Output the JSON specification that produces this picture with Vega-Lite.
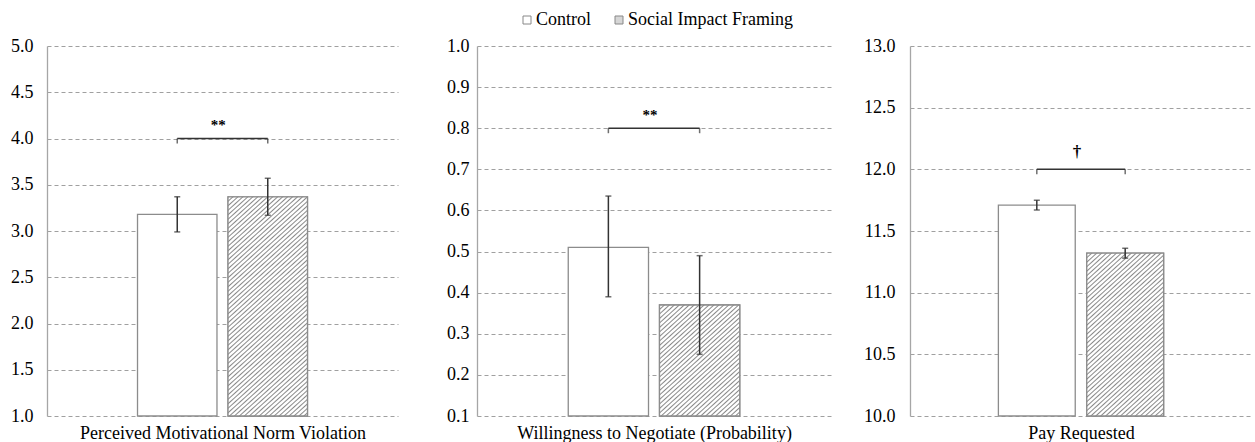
{
 "$schema": "https://vega.github.io/schema/vega-lite/v6.json",
 "background": "white",
 "padding": {"left": 10, "top": 11, "right": 0, "bottom": 0},
 "bounds": "flush",
 "spacing": 79,
 "config": {
  "view": {"stroke": null},
  "font": "Liberation Serif, Times New Roman, DejaVu Serif, serif",
  "axis": {"labelFont": "Liberation Serif, Times New Roman, DejaVu Serif, serif", "titleFont": "Liberation Serif, Times New Roman, DejaVu Serif, serif", "labelColor": "#000", "titleColor": "#000", "titleFontWeight": "normal", "titleFontSize": 18, "labelFontSize": 18},
  "legend": {"labelFont": "Liberation Serif, Times New Roman, DejaVu Serif, serif"},
  "text": {"font": "Liberation Serif, Times New Roman, DejaVu Serif, serif"}
 },
 "resolve": {
  "scale": {"x": "independent", "y": "independent", "fill": "independent"},
  "axis": {"x": "independent", "y": "independent"},
  "legend": {"fill": "independent"}
 },
 "hconcat": [
  {
   "width": 351, "height": 370,
   "data": {"values": [
    {"group": "Control", "mean": 3.18, "lo": 2.99, "hi": 3.37},
    {"group": "Social Impact Framing", "mean": 3.37, "lo": 3.17, "hi": 3.57}
   ]},
   "encoding": {
    "x": {"field": "group", "type": "nominal", "scale": {"domain": ["Control", "Social Impact Framing"], "paddingInner": 0.122, "paddingOuter": 1.2012}, "axis": {"title": "Perceived Motivational Norm Violation", "labels": false, "ticks": false, "domain": false, "grid": false, "titlePadding": 8, "titleFont": "Liberation Serif, Times New Roman, serif"}}
   },
   "layer": [
    {"mark": {"type": "bar", "fill": "#ffffff", "stroke": "#8c8c8c", "strokeWidth": 1.3},
     "encoding": {"y": {"field": "mean", "type": "quantitative", "scale": {"domain": [1, 5], "nice": false, "zero": false}, "axis": {"title": null, "values": [1, 1.5, 2, 2.5, 3, 3.5, 4, 4.5, 5], "format": ".1f", "labelFont": "Liberation Serif, Times New Roman, serif", "labelFontSize": 18, "labelPadding": 14, "ticks": false, "tickSize": 0, "grid": true, "gridDash": [4, 3], "gridColor": "#a0a0a0", "domainColor": "#a6a6a6", "domainWidth": 1.3}}, "y2": {"datum": 1}}},
    {"transform": [{"filter": "datum.group === 'Social Impact Framing'"}],
     "mark": {"type": "bar", "stroke": "#8c8c8c", "strokeWidth": 1.3, "fill": {"gradient": "linear", "x1": 0, "y1": 0, "x2": 0.6085, "y2": 1.8529, "stops": [
{"offset":0,"color":"#888"},{"offset":0.003,"color":"#fff"},{"offset":0.007,"color":"#fff"},
{"offset":0.01,"color":"#888"},{"offset":0.013,"color":"#fff"},{"offset":0.017,"color":"#fff"},
{"offset":0.02,"color":"#888"},{"offset":0.023,"color":"#fff"},{"offset":0.027,"color":"#fff"},
{"offset":0.03,"color":"#888"},{"offset":0.033,"color":"#fff"},{"offset":0.037,"color":"#fff"},
{"offset":0.04,"color":"#888"},{"offset":0.043,"color":"#fff"},{"offset":0.047,"color":"#fff"},
{"offset":0.05,"color":"#888"},{"offset":0.053,"color":"#fff"},{"offset":0.057,"color":"#fff"},
{"offset":0.06,"color":"#888"},{"offset":0.063,"color":"#fff"},{"offset":0.067,"color":"#fff"},
{"offset":0.07,"color":"#888"},{"offset":0.073,"color":"#fff"},{"offset":0.077,"color":"#fff"},
{"offset":0.08,"color":"#888"},{"offset":0.083,"color":"#fff"},{"offset":0.087,"color":"#fff"},
{"offset":0.09,"color":"#888"},{"offset":0.093,"color":"#fff"},{"offset":0.097,"color":"#fff"},
{"offset":0.1,"color":"#888"},{"offset":0.103,"color":"#fff"},{"offset":0.107,"color":"#fff"},
{"offset":0.11,"color":"#888"},{"offset":0.113,"color":"#fff"},{"offset":0.117,"color":"#fff"},
{"offset":0.12,"color":"#888"},{"offset":0.123,"color":"#fff"},{"offset":0.127,"color":"#fff"},
{"offset":0.13,"color":"#888"},{"offset":0.133,"color":"#fff"},{"offset":0.137,"color":"#fff"},
{"offset":0.14,"color":"#888"},{"offset":0.143,"color":"#fff"},{"offset":0.147,"color":"#fff"},
{"offset":0.15,"color":"#888"},{"offset":0.153,"color":"#fff"},{"offset":0.157,"color":"#fff"},
{"offset":0.16,"color":"#888"},{"offset":0.163,"color":"#fff"},{"offset":0.167,"color":"#fff"},
{"offset":0.17,"color":"#888"},{"offset":0.173,"color":"#fff"},{"offset":0.177,"color":"#fff"},
{"offset":0.18,"color":"#888"},{"offset":0.183,"color":"#fff"},{"offset":0.187,"color":"#fff"},
{"offset":0.19,"color":"#888"},{"offset":0.193,"color":"#fff"},{"offset":0.197,"color":"#fff"},
{"offset":0.2,"color":"#888"},{"offset":0.203,"color":"#fff"},{"offset":0.207,"color":"#fff"},
{"offset":0.21,"color":"#888"},{"offset":0.213,"color":"#fff"},{"offset":0.217,"color":"#fff"},
{"offset":0.22,"color":"#888"},{"offset":0.223,"color":"#fff"},{"offset":0.227,"color":"#fff"},
{"offset":0.23,"color":"#888"},{"offset":0.233,"color":"#fff"},{"offset":0.237,"color":"#fff"},
{"offset":0.24,"color":"#888"},{"offset":0.243,"color":"#fff"},{"offset":0.247,"color":"#fff"},
{"offset":0.25,"color":"#888"},{"offset":0.253,"color":"#fff"},{"offset":0.257,"color":"#fff"},
{"offset":0.26,"color":"#888"},{"offset":0.263,"color":"#fff"},{"offset":0.267,"color":"#fff"},
{"offset":0.27,"color":"#888"},{"offset":0.273,"color":"#fff"},{"offset":0.277,"color":"#fff"},
{"offset":0.28,"color":"#888"},{"offset":0.283,"color":"#fff"},{"offset":0.287,"color":"#fff"},
{"offset":0.29,"color":"#888"},{"offset":0.293,"color":"#fff"},{"offset":0.297,"color":"#fff"},
{"offset":0.3,"color":"#888"},{"offset":0.303,"color":"#fff"},{"offset":0.307,"color":"#fff"},
{"offset":0.31,"color":"#888"},{"offset":0.313,"color":"#fff"},{"offset":0.317,"color":"#fff"},
{"offset":0.32,"color":"#888"},{"offset":0.323,"color":"#fff"},{"offset":0.327,"color":"#fff"},
{"offset":0.33,"color":"#888"},{"offset":0.333,"color":"#fff"},{"offset":0.337,"color":"#fff"},
{"offset":0.34,"color":"#888"},{"offset":0.343,"color":"#fff"},{"offset":0.347,"color":"#fff"},
{"offset":0.35,"color":"#888"},{"offset":0.353,"color":"#fff"},{"offset":0.357,"color":"#fff"},
{"offset":0.36,"color":"#888"},{"offset":0.363,"color":"#fff"},{"offset":0.367,"color":"#fff"},
{"offset":0.37,"color":"#888"},{"offset":0.373,"color":"#fff"},{"offset":0.377,"color":"#fff"},
{"offset":0.38,"color":"#888"},{"offset":0.383,"color":"#fff"},{"offset":0.387,"color":"#fff"},
{"offset":0.39,"color":"#888"},{"offset":0.393,"color":"#fff"},{"offset":0.397,"color":"#fff"},
{"offset":0.4,"color":"#888"},{"offset":0.403,"color":"#fff"},{"offset":0.407,"color":"#fff"},
{"offset":0.41,"color":"#888"},{"offset":0.413,"color":"#fff"},{"offset":0.417,"color":"#fff"},
{"offset":0.42,"color":"#888"},{"offset":0.423,"color":"#fff"},{"offset":0.427,"color":"#fff"},
{"offset":0.43,"color":"#888"},{"offset":0.433,"color":"#fff"},{"offset":0.437,"color":"#fff"},
{"offset":0.44,"color":"#888"},{"offset":0.443,"color":"#fff"},{"offset":0.447,"color":"#fff"},
{"offset":0.45,"color":"#888"},{"offset":0.453,"color":"#fff"},{"offset":0.457,"color":"#fff"},
{"offset":0.46,"color":"#888"},{"offset":0.463,"color":"#fff"},{"offset":0.467,"color":"#fff"},
{"offset":0.47,"color":"#888"},{"offset":0.473,"color":"#fff"},{"offset":0.477,"color":"#fff"},
{"offset":0.48,"color":"#888"},{"offset":0.483,"color":"#fff"},{"offset":0.487,"color":"#fff"},
{"offset":0.49,"color":"#888"},{"offset":0.493,"color":"#fff"},{"offset":0.497,"color":"#fff"},
{"offset":0.5,"color":"#888"},{"offset":0.503,"color":"#fff"},{"offset":0.507,"color":"#fff"},
{"offset":0.51,"color":"#888"},{"offset":0.513,"color":"#fff"},{"offset":0.517,"color":"#fff"},
{"offset":0.52,"color":"#888"},{"offset":0.523,"color":"#fff"},{"offset":0.527,"color":"#fff"},
{"offset":0.53,"color":"#888"},{"offset":0.533,"color":"#fff"},{"offset":0.537,"color":"#fff"},
{"offset":0.54,"color":"#888"},{"offset":0.543,"color":"#fff"},{"offset":0.547,"color":"#fff"},
{"offset":0.55,"color":"#888"},{"offset":0.553,"color":"#fff"},{"offset":0.557,"color":"#fff"},
{"offset":0.56,"color":"#888"},{"offset":0.563,"color":"#fff"},{"offset":0.567,"color":"#fff"},
{"offset":0.57,"color":"#888"},{"offset":0.573,"color":"#fff"},{"offset":0.577,"color":"#fff"},
{"offset":0.58,"color":"#888"},{"offset":0.583,"color":"#fff"},{"offset":0.587,"color":"#fff"},
{"offset":0.59,"color":"#888"},{"offset":0.593,"color":"#fff"},{"offset":0.597,"color":"#fff"},
{"offset":0.6,"color":"#888"},{"offset":0.603,"color":"#fff"},{"offset":0.607,"color":"#fff"},
{"offset":0.61,"color":"#888"},{"offset":0.613,"color":"#fff"},{"offset":0.617,"color":"#fff"},
{"offset":0.62,"color":"#888"},{"offset":0.623,"color":"#fff"},{"offset":0.627,"color":"#fff"},
{"offset":0.63,"color":"#888"},{"offset":0.633,"color":"#fff"},{"offset":0.637,"color":"#fff"},
{"offset":0.64,"color":"#888"},{"offset":0.643,"color":"#fff"},{"offset":0.647,"color":"#fff"},
{"offset":0.65,"color":"#888"},{"offset":0.653,"color":"#fff"},{"offset":0.657,"color":"#fff"},
{"offset":0.66,"color":"#888"}]}},
     "encoding": {"y": {"field": "mean", "type": "quantitative"}, "y2": {"datum": 1}}},
    {"mark": {"type": "rule", "color": "#333", "strokeWidth": 1.5},
     "encoding": {"y": {"field": "lo", "type": "quantitative"}, "y2": {"field": "hi"}}},
    {"mark": {"type": "tick", "orient": "horizontal", "color": "#333", "thickness": 1.5, "size": 6},
     "encoding": {"y": {"field": "lo", "type": "quantitative"}}},
    {"mark": {"type": "tick", "orient": "horizontal", "color": "#333", "thickness": 1.5, "size": 6},
     "encoding": {"y": {"field": "hi", "type": "quantitative"}}},
    {"data": {"values": [{"group": "Control", "level": 4}, {"group": "Social Impact Framing", "level": 4}]},
     "mark": {"type": "line", "color": "#333", "strokeWidth": 1.5},
     "encoding": {"y": {"field": "level", "type": "quantitative"}}},
    {"data": {"values": [{"group": "Control", "level": 4}, {"group": "Social Impact Framing", "level": 4}]},
     "mark": {"type": "tick", "orient": "vertical", "color": "#333", "thickness": 1.5, "size": 5, "yOffset": 2.5},
     "encoding": {"y": {"field": "level", "type": "quantitative"}}},
    {"data": {"values": [{"group": "Control", "level": 4, "sig": "**"}]},
     "mark": {"type": "text", "xOffset": 41, "dy": -9, "baseline": "alphabetic", "fontSize": 15, "fontWeight": "bold", "font": "Liberation Serif, Times New Roman, serif", "color": "#000"},
     "encoding": {"y": {"field": "level", "type": "quantitative"}, "text": {"field": "sig"}}}
   ]
  },
  {
   "width": 354, "height": 370,
   "data": {"values": [
    {"group": "Control", "mean": 0.51, "lo": 0.39, "hi": 0.635},
    {"group": "Social Impact Framing", "mean": 0.37, "lo": 0.25, "hi": 0.49}
   ]},
   "encoding": {
    "x": {"field": "group", "type": "nominal", "scale": {"domain": ["Control", "Social Impact Framing"], "paddingInner": 0.12048, "paddingOuter": 1.19277}, "axis": {"title": "Willingness to Negotiate (Probability)", "labels": false, "ticks": false, "domain": false, "grid": false, "titlePadding": 8, "titleFont": "Liberation Serif, Times New Roman, serif"}}
   },
   "layer": [
    {"mark": {"type": "bar", "stroke": "#8c8c8c", "strokeWidth": 1.3},
     "encoding": {
      "y": {"field": "mean", "type": "quantitative", "scale": {"domain": [0.1, 1.0], "nice": false, "zero": false}, "axis": {"title": null, "values": [0.1, 0.2, 0.3, 0.4, 0.5, 0.6, 0.7, 0.8, 0.9, 1.0], "format": ".1f", "labelFont": "Liberation Serif, Times New Roman, serif", "labelFontSize": 18, "labelPadding": 8, "ticks": false, "tickSize": 0, "grid": true, "gridDash": [4, 3], "gridColor": "#a0a0a0", "domainColor": "#a6a6a6", "domainWidth": 1.3}},
      "y2": {"datum": 0.1},
      "fill": {"field": "group", "type": "nominal", "scale": {"domain": ["Control", "Social Impact Framing"], "range": ["#ffffff", "#d6d6d6"]}, "legend": {"orient": "none", "legendX": 41, "legendY": -35, "direction": "horizontal", "title": null, "symbolType": "square", "symbolSize": 64, "symbolStrokeColor": "#888", "symbolStrokeWidth": 1, "labelFont": "Liberation Serif, Times New Roman, serif", "labelFontSize": 18, "labelColor": "#000", "labelOffset": 0, "labelLimit": 400, "columnPadding": 18, "padding": 0}}
     }},
    {"transform": [{"filter": "datum.group === 'Social Impact Framing'"}],
     "mark": {"type": "bar", "stroke": "#8c8c8c", "strokeWidth": 1.3, "fill": {"gradient": "linear", "x1": 0, "y1": 0, "x2": 1.8612, "y2": 2.83, "stops": [
{"offset":0,"color":"#888"},{"offset":0.003,"color":"#fff"},{"offset":0.007,"color":"#fff"},
{"offset":0.01,"color":"#888"},{"offset":0.013,"color":"#fff"},{"offset":0.017,"color":"#fff"},
{"offset":0.02,"color":"#888"},{"offset":0.023,"color":"#fff"},{"offset":0.027,"color":"#fff"},
{"offset":0.03,"color":"#888"},{"offset":0.033,"color":"#fff"},{"offset":0.037,"color":"#fff"},
{"offset":0.04,"color":"#888"},{"offset":0.043,"color":"#fff"},{"offset":0.047,"color":"#fff"},
{"offset":0.05,"color":"#888"},{"offset":0.053,"color":"#fff"},{"offset":0.057,"color":"#fff"},
{"offset":0.06,"color":"#888"},{"offset":0.063,"color":"#fff"},{"offset":0.067,"color":"#fff"},
{"offset":0.07,"color":"#888"},{"offset":0.073,"color":"#fff"},{"offset":0.077,"color":"#fff"},
{"offset":0.08,"color":"#888"},{"offset":0.083,"color":"#fff"},{"offset":0.087,"color":"#fff"},
{"offset":0.09,"color":"#888"},{"offset":0.093,"color":"#fff"},{"offset":0.097,"color":"#fff"},
{"offset":0.1,"color":"#888"},{"offset":0.103,"color":"#fff"},{"offset":0.107,"color":"#fff"},
{"offset":0.11,"color":"#888"},{"offset":0.113,"color":"#fff"},{"offset":0.117,"color":"#fff"},
{"offset":0.12,"color":"#888"},{"offset":0.123,"color":"#fff"},{"offset":0.127,"color":"#fff"},
{"offset":0.13,"color":"#888"},{"offset":0.133,"color":"#fff"},{"offset":0.137,"color":"#fff"},
{"offset":0.14,"color":"#888"},{"offset":0.143,"color":"#fff"},{"offset":0.147,"color":"#fff"},
{"offset":0.15,"color":"#888"},{"offset":0.153,"color":"#fff"},{"offset":0.157,"color":"#fff"},
{"offset":0.16,"color":"#888"},{"offset":0.163,"color":"#fff"},{"offset":0.167,"color":"#fff"},
{"offset":0.17,"color":"#888"},{"offset":0.173,"color":"#fff"},{"offset":0.177,"color":"#fff"},
{"offset":0.18,"color":"#888"},{"offset":0.183,"color":"#fff"},{"offset":0.187,"color":"#fff"},
{"offset":0.19,"color":"#888"},{"offset":0.193,"color":"#fff"},{"offset":0.197,"color":"#fff"},
{"offset":0.2,"color":"#888"},{"offset":0.203,"color":"#fff"},{"offset":0.207,"color":"#fff"},
{"offset":0.21,"color":"#888"},{"offset":0.213,"color":"#fff"},{"offset":0.217,"color":"#fff"},
{"offset":0.22,"color":"#888"},{"offset":0.223,"color":"#fff"},{"offset":0.227,"color":"#fff"},
{"offset":0.23,"color":"#888"},{"offset":0.233,"color":"#fff"},{"offset":0.237,"color":"#fff"},
{"offset":0.24,"color":"#888"},{"offset":0.243,"color":"#fff"},{"offset":0.247,"color":"#fff"},
{"offset":0.25,"color":"#888"},{"offset":0.253,"color":"#fff"},{"offset":0.257,"color":"#fff"},
{"offset":0.26,"color":"#888"},{"offset":0.263,"color":"#fff"},{"offset":0.267,"color":"#fff"},
{"offset":0.27,"color":"#888"},{"offset":0.273,"color":"#fff"},{"offset":0.277,"color":"#fff"},
{"offset":0.28,"color":"#888"},{"offset":0.283,"color":"#fff"},{"offset":0.287,"color":"#fff"},
{"offset":0.29,"color":"#888"},{"offset":0.293,"color":"#fff"},{"offset":0.297,"color":"#fff"},
{"offset":0.3,"color":"#888"},{"offset":0.303,"color":"#fff"},{"offset":0.307,"color":"#fff"},
{"offset":0.31,"color":"#888"},{"offset":0.313,"color":"#fff"},{"offset":0.317,"color":"#fff"},
{"offset":0.32,"color":"#888"},{"offset":0.323,"color":"#fff"},{"offset":0.327,"color":"#fff"},
{"offset":0.33,"color":"#888"},{"offset":0.333,"color":"#fff"},{"offset":0.337,"color":"#fff"},
{"offset":0.34,"color":"#888"},{"offset":0.343,"color":"#fff"},{"offset":0.347,"color":"#fff"},
{"offset":0.35,"color":"#888"},{"offset":0.353,"color":"#fff"},{"offset":0.357,"color":"#fff"},
{"offset":0.36,"color":"#888"},{"offset":0.363,"color":"#fff"},{"offset":0.367,"color":"#fff"},
{"offset":0.37,"color":"#888"},{"offset":0.373,"color":"#fff"},{"offset":0.377,"color":"#fff"},
{"offset":0.38,"color":"#888"},{"offset":0.383,"color":"#fff"},{"offset":0.387,"color":"#fff"},
{"offset":0.39,"color":"#888"},{"offset":0.393,"color":"#fff"},{"offset":0.397,"color":"#fff"},
{"offset":0.4,"color":"#888"},{"offset":0.403,"color":"#fff"},{"offset":0.407,"color":"#fff"},
{"offset":0.41,"color":"#888"},{"offset":0.413,"color":"#fff"},{"offset":0.417,"color":"#fff"},
{"offset":0.42,"color":"#888"}]}},
     "encoding": {"y": {"field": "mean", "type": "quantitative"}, "y2": {"datum": 0.1}}},
    {"mark": {"type": "rule", "color": "#333", "strokeWidth": 1.5},
     "encoding": {"y": {"field": "lo", "type": "quantitative"}, "y2": {"field": "hi"}}},
    {"mark": {"type": "tick", "orient": "horizontal", "color": "#333", "thickness": 1.5, "size": 6},
     "encoding": {"y": {"field": "lo", "type": "quantitative"}}},
    {"mark": {"type": "tick", "orient": "horizontal", "color": "#333", "thickness": 1.5, "size": 6},
     "encoding": {"y": {"field": "hi", "type": "quantitative"}}},
    {"data": {"values": [{"group": "Control", "level": 0.8}, {"group": "Social Impact Framing", "level": 0.8}]},
     "mark": {"type": "line", "color": "#333", "strokeWidth": 1.5},
     "encoding": {"y": {"field": "level", "type": "quantitative"}}},
    {"data": {"values": [{"group": "Control", "level": 0.8}, {"group": "Social Impact Framing", "level": 0.8}]},
     "mark": {"type": "tick", "orient": "vertical", "color": "#333", "thickness": 1.5, "size": 5, "yOffset": 2.5},
     "encoding": {"y": {"field": "level", "type": "quantitative"}}},
    {"data": {"values": [{"group": "Control", "level": 0.8, "sig": "**"}]},
     "mark": {"type": "text", "xOffset": 41.5, "dy": -8, "baseline": "alphabetic", "fontSize": 15, "fontWeight": "bold", "font": "Liberation Serif, Times New Roman, serif", "color": "#000"},
     "encoding": {"y": {"field": "level", "type": "quantitative"}, "text": {"field": "sig"}}}
   ]
  },
  {
   "width": 342, "height": 370,
   "data": {"values": [
    {"group": "Control", "mean": 11.71, "lo": 11.67, "hi": 11.75},
    {"group": "Social Impact Framing", "mean": 11.32, "lo": 11.28, "hi": 11.36}
   ]},
   "encoding": {
    "x": {"field": "group", "type": "nominal", "scale": {"domain": ["Control", "Social Impact Framing"], "paddingInner": 0.13043, "paddingOuter": 1.18944}, "axis": {"title": "Pay Requested", "labels": false, "ticks": false, "domain": false, "grid": false, "titlePadding": 8, "titleFont": "Liberation Serif, Times New Roman, serif"}}
   },
   "layer": [
    {"mark": {"type": "bar", "fill": "#ffffff", "stroke": "#8c8c8c", "strokeWidth": 1.3},
     "encoding": {"y": {"field": "mean", "type": "quantitative", "scale": {"domain": [10, 13], "nice": false, "zero": false}, "axis": {"title": null, "values": [10, 10.5, 11, 11.5, 12, 12.5, 13], "format": ".1f", "labelFont": "Liberation Serif, Times New Roman, serif", "labelFontSize": 18, "labelPadding": 15, "ticks": false, "tickSize": 0, "grid": true, "gridDash": [4, 3], "gridColor": "#a0a0a0", "domainColor": "#a6a6a6", "domainWidth": 1.3}}, "y2": {"datum": 10}}},
    {"transform": [{"filter": "datum.group === 'Social Impact Framing'"}],
     "mark": {"type": "bar", "stroke": "#8c8c8c", "strokeWidth": 1.3, "fill": {"gradient": "linear", "x1": 0, "y1": 0, "x2": 1.0031, "y2": 2.3328, "stops": [
{"offset":0,"color":"#888"},{"offset":0.003,"color":"#fff"},{"offset":0.007,"color":"#fff"},
{"offset":0.01,"color":"#888"},{"offset":0.013,"color":"#fff"},{"offset":0.017,"color":"#fff"},
{"offset":0.02,"color":"#888"},{"offset":0.023,"color":"#fff"},{"offset":0.027,"color":"#fff"},
{"offset":0.03,"color":"#888"},{"offset":0.033,"color":"#fff"},{"offset":0.037,"color":"#fff"},
{"offset":0.04,"color":"#888"},{"offset":0.043,"color":"#fff"},{"offset":0.047,"color":"#fff"},
{"offset":0.05,"color":"#888"},{"offset":0.053,"color":"#fff"},{"offset":0.057,"color":"#fff"},
{"offset":0.06,"color":"#888"},{"offset":0.063,"color":"#fff"},{"offset":0.067,"color":"#fff"},
{"offset":0.07,"color":"#888"},{"offset":0.073,"color":"#fff"},{"offset":0.077,"color":"#fff"},
{"offset":0.08,"color":"#888"},{"offset":0.083,"color":"#fff"},{"offset":0.087,"color":"#fff"},
{"offset":0.09,"color":"#888"},{"offset":0.093,"color":"#fff"},{"offset":0.097,"color":"#fff"},
{"offset":0.1,"color":"#888"},{"offset":0.103,"color":"#fff"},{"offset":0.107,"color":"#fff"},
{"offset":0.11,"color":"#888"},{"offset":0.113,"color":"#fff"},{"offset":0.117,"color":"#fff"},
{"offset":0.12,"color":"#888"},{"offset":0.123,"color":"#fff"},{"offset":0.127,"color":"#fff"},
{"offset":0.13,"color":"#888"},{"offset":0.133,"color":"#fff"},{"offset":0.137,"color":"#fff"},
{"offset":0.14,"color":"#888"},{"offset":0.143,"color":"#fff"},{"offset":0.147,"color":"#fff"},
{"offset":0.15,"color":"#888"},{"offset":0.153,"color":"#fff"},{"offset":0.157,"color":"#fff"},
{"offset":0.16,"color":"#888"},{"offset":0.163,"color":"#fff"},{"offset":0.167,"color":"#fff"},
{"offset":0.17,"color":"#888"},{"offset":0.173,"color":"#fff"},{"offset":0.177,"color":"#fff"},
{"offset":0.18,"color":"#888"},{"offset":0.183,"color":"#fff"},{"offset":0.187,"color":"#fff"},
{"offset":0.19,"color":"#888"},{"offset":0.193,"color":"#fff"},{"offset":0.197,"color":"#fff"},
{"offset":0.2,"color":"#888"},{"offset":0.203,"color":"#fff"},{"offset":0.207,"color":"#fff"},
{"offset":0.21,"color":"#888"},{"offset":0.213,"color":"#fff"},{"offset":0.217,"color":"#fff"},
{"offset":0.22,"color":"#888"},{"offset":0.223,"color":"#fff"},{"offset":0.227,"color":"#fff"},
{"offset":0.23,"color":"#888"},{"offset":0.233,"color":"#fff"},{"offset":0.237,"color":"#fff"},
{"offset":0.24,"color":"#888"},{"offset":0.243,"color":"#fff"},{"offset":0.247,"color":"#fff"},
{"offset":0.25,"color":"#888"},{"offset":0.253,"color":"#fff"},{"offset":0.257,"color":"#fff"},
{"offset":0.26,"color":"#888"},{"offset":0.263,"color":"#fff"},{"offset":0.267,"color":"#fff"},
{"offset":0.27,"color":"#888"},{"offset":0.273,"color":"#fff"},{"offset":0.277,"color":"#fff"},
{"offset":0.28,"color":"#888"},{"offset":0.283,"color":"#fff"},{"offset":0.287,"color":"#fff"},
{"offset":0.29,"color":"#888"},{"offset":0.293,"color":"#fff"},{"offset":0.297,"color":"#fff"},
{"offset":0.3,"color":"#888"},{"offset":0.303,"color":"#fff"},{"offset":0.307,"color":"#fff"},
{"offset":0.31,"color":"#888"},{"offset":0.313,"color":"#fff"},{"offset":0.317,"color":"#fff"},
{"offset":0.32,"color":"#888"},{"offset":0.323,"color":"#fff"},{"offset":0.327,"color":"#fff"},
{"offset":0.33,"color":"#888"},{"offset":0.333,"color":"#fff"},{"offset":0.337,"color":"#fff"},
{"offset":0.34,"color":"#888"},{"offset":0.343,"color":"#fff"},{"offset":0.347,"color":"#fff"},
{"offset":0.35,"color":"#888"},{"offset":0.353,"color":"#fff"},{"offset":0.357,"color":"#fff"},
{"offset":0.36,"color":"#888"},{"offset":0.363,"color":"#fff"},{"offset":0.367,"color":"#fff"},
{"offset":0.37,"color":"#888"},{"offset":0.373,"color":"#fff"},{"offset":0.377,"color":"#fff"},
{"offset":0.38,"color":"#888"},{"offset":0.383,"color":"#fff"},{"offset":0.387,"color":"#fff"},
{"offset":0.39,"color":"#888"},{"offset":0.393,"color":"#fff"},{"offset":0.397,"color":"#fff"},
{"offset":0.4,"color":"#888"},{"offset":0.403,"color":"#fff"},{"offset":0.407,"color":"#fff"},
{"offset":0.41,"color":"#888"},{"offset":0.413,"color":"#fff"},{"offset":0.417,"color":"#fff"},
{"offset":0.42,"color":"#888"},{"offset":0.423,"color":"#fff"},{"offset":0.427,"color":"#fff"},
{"offset":0.43,"color":"#888"},{"offset":0.433,"color":"#fff"},{"offset":0.437,"color":"#fff"},
{"offset":0.44,"color":"#888"},{"offset":0.443,"color":"#fff"},{"offset":0.447,"color":"#fff"},
{"offset":0.45,"color":"#888"},{"offset":0.453,"color":"#fff"},{"offset":0.457,"color":"#fff"},
{"offset":0.46,"color":"#888"},{"offset":0.463,"color":"#fff"},{"offset":0.467,"color":"#fff"},
{"offset":0.47,"color":"#888"},{"offset":0.473,"color":"#fff"},{"offset":0.477,"color":"#fff"},
{"offset":0.48,"color":"#888"},{"offset":0.483,"color":"#fff"},{"offset":0.487,"color":"#fff"},
{"offset":0.49,"color":"#888"},{"offset":0.493,"color":"#fff"},{"offset":0.497,"color":"#fff"},
{"offset":0.5,"color":"#888"},{"offset":0.503,"color":"#fff"},{"offset":0.507,"color":"#fff"},
{"offset":0.51,"color":"#888"},{"offset":0.513,"color":"#fff"},{"offset":0.517,"color":"#fff"},
{"offset":0.52,"color":"#888"},{"offset":0.523,"color":"#fff"},{"offset":0.527,"color":"#fff"},
{"offset":0.53,"color":"#888"}]}},
     "encoding": {"y": {"field": "mean", "type": "quantitative"}, "y2": {"datum": 10}}},
    {"mark": {"type": "rule", "color": "#333", "strokeWidth": 1.5},
     "encoding": {"y": {"field": "lo", "type": "quantitative"}, "y2": {"field": "hi"}}},
    {"mark": {"type": "tick", "orient": "horizontal", "color": "#333", "thickness": 1.5, "size": 6},
     "encoding": {"y": {"field": "lo", "type": "quantitative"}}},
    {"mark": {"type": "tick", "orient": "horizontal", "color": "#333", "thickness": 1.5, "size": 6},
     "encoding": {"y": {"field": "hi", "type": "quantitative"}}},
    {"data": {"values": [{"group": "Control", "level": 12}, {"group": "Social Impact Framing", "level": 12}]},
     "mark": {"type": "line", "color": "#333", "strokeWidth": 1.5},
     "encoding": {"y": {"field": "level", "type": "quantitative"}}},
    {"data": {"values": [{"group": "Control", "level": 12}, {"group": "Social Impact Framing", "level": 12}]},
     "mark": {"type": "tick", "orient": "vertical", "color": "#333", "thickness": 1.5, "size": 5, "yOffset": 2.5},
     "encoding": {"y": {"field": "level", "type": "quantitative"}}},
    {"data": {"values": [{"group": "Control", "level": 12, "sig": "†"}]},
     "mark": {"type": "text", "xOffset": 40.25, "dy": -12, "baseline": "alphabetic", "fontSize": 17, "fontWeight": "bold", "font": "Liberation Serif, Times New Roman, serif", "color": "#000"},
     "encoding": {"y": {"field": "level", "type": "quantitative"}, "text": {"field": "sig"}}}
   ]
  }
 ]
}
